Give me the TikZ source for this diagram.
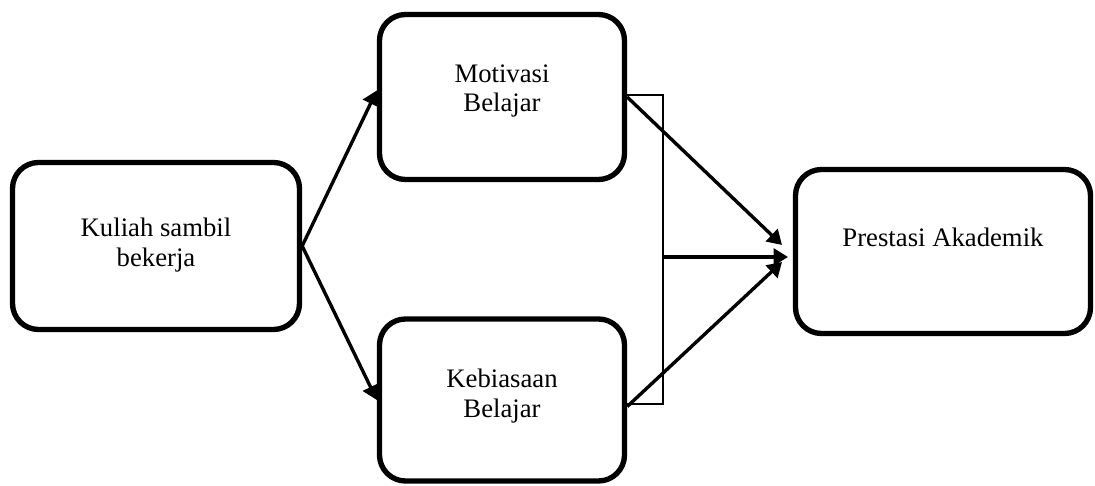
\documentclass[tikz,border=0pt]{standalone}
\usepackage{fontspec}
\setmainfont{Liberation Serif}
\usepackage{tikz}
\usetikzlibrary{arrows.meta, calc, positioning}
\tikzset{>=stealth}
\tikzset{
	kotak/.style={draw, line width=3.8pt, rounded corners=0.65cm, inner sep=0pt},
	teks/.style={align=center, font=\fontsize{19}{21.3}\selectfont},
	panah/.style={line width=2.4pt, -{Triangle[length=3.6mm,width=4.2mm]}},
	garis/.style={line width=1.9pt}
}

\begin{document}
\begin{tikzpicture}
			\useasboundingbox (0,0) rectangle (27.375,12.125);
			% kotak-kotak
			\node[kotak, minimum width=7.175cm, minimum height=4.175cm,
				label={[teks, yshift=0.02cm]center:Kuliah sambil\\bekerja}] (kuliah) at (3.9,5.975) {};
			\node[kotak, minimum width=6.125cm, minimum height=4.125cm,
				label={[teks, yshift=0.15cm]center:Motivasi\\Belajar}] (motivasi) at (12.55,9.7) {};
			\node[kotak, minimum width=6.125cm, minimum height=4.05cm,
				label={[teks, yshift=0.1cm]center:Kebiasaan\\Belajar}] (kebiasaan) at (12.55,2.125) {};
			\node[kotak, minimum width=7.375cm, minimum height=4.1cm,
				label={[teks, yshift=0.35cm]center:Prestasi Akademik}] (prestasi) at (23.575,5.8375) {};
			% titik bantu
			\coordinate (kananA) at (16.575,9.75);
			\coordinate (kananB) at (16.575,2.025);
			\coordinate (tengah) at (16.575,5.7);
			\coordinate (ujungA) at (19.55,6.0);
			\coordinate (ujungB) at (19.7,5.7);
			\coordinate (ujungC) at (19.55,5.575);
			% panah
			\draw[panah] (kuliah.east) -- (motivasi.177);
			\draw[panah] (kuliah.east) -- (kebiasaan.west);
			\draw[garis] (motivasi.east |- kananA) -- (kananA) -- (kananB) -- (kebiasaan.east |- kananB);
			\draw[panah] (motivasi.east) -- (ujungA);
			\draw[panah] (tengah) -- (ujungB);
			\draw[panah] (kebiasaan.-3) -- (ujungC);
		\end{tikzpicture}
\end{document}
